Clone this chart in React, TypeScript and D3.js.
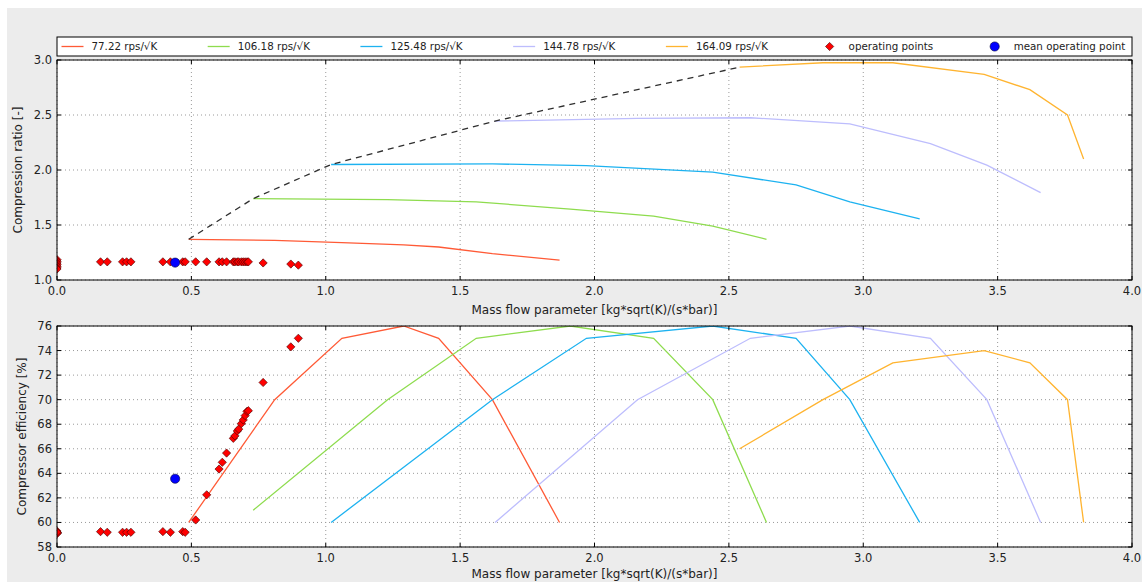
import * as d3 from 'd3';
import React, { useEffect, useRef } from 'react';

// compressor speed lines (corrected speed)
const speedLabels = ['77.22 rps/√K', '106.18 rps/√K', '125.48 rps/√K', '144.78 rps/√K', '164.09 rps/√K'];

const massFlow77 = [0.49, 0.81, 1.06, 1.29, 1.42, 1.62, 1.87];
const pr77 = [1.37, 1.36, 1.34, 1.32, 1.30, 1.24, 1.18];
const eff77 = [60, 70, 75, 76, 75, 70, 60];

const massFlow106 = [0.73, 1.23, 1.56, 1.91, 2.22, 2.44, 2.64];
const pr106 = [1.74, 1.73, 1.71, 1.645, 1.58, 1.49, 1.37];
const eff106 = [61, 70, 75, 76, 75, 70, 60];

const massFlow125 = [1.02, 1.62, 1.97, 2.44, 2.75, 2.95, 3.21];
const pr125 = [2.05, 2.055, 2.04, 1.98, 1.865, 1.71, 1.555];
const eff125 = [60, 70, 75, 76, 75, 70, 60];

const massFlow144 = [1.63, 2.16, 2.58, 2.95, 3.25, 3.46, 3.66];
const pr144 = [2.445, 2.47, 2.475, 2.42, 2.24, 2.045, 1.795];
const eff144 = [60, 70, 75, 76, 75, 70, 60];

const massFlow164 = [2.54, 2.85, 3.11, 3.45, 3.62, 3.76, 3.82];
const pr164 = [2.935, 2.975, 2.975, 2.87, 2.73, 2.50, 2.10];
const eff164 = [66, 70, 73, 74, 73, 70, 60];

// operating points
const opMassFlow = [0, 0, 0, 0, 0, 0, 0, 0.162, 0.187, 0.244, 0.259, 0.275, 0.394, 0.422, 0.468, 0.477,
  0.516, 0.557, 0.603, 0.615, 0.631, 0.656, 0.662, 0.671, 0.676, 0.686, 0.693, 0.700, 0.707, 0.712,
  0.767, 0.870, 0.898];
const opPR = [1.185, 1.17, 1.155, 1.14, 1.125, 1.11, 1.10, 1.165, 1.165, 1.165, 1.165, 1.165, 1.165, 1.165, 1.165, 1.165,
  1.165, 1.165, 1.165, 1.165, 1.165, 1.165, 1.165, 1.165, 1.165, 1.165, 1.165, 1.165, 1.165, 1.165,
  1.155, 1.145, 1.135];
const opEff = [59.2, 59.1, 59.2, 59.3, 59.2, 59.1, 59.2, 59.25, 59.2, 59.2, 59.2, 59.2, 59.25, 59.2, 59.25, 59.2,
  60.2, 62.25, 64.35, 64.9, 65.65, 66.85, 67.05, 67.45, 67.6, 68.05, 68.35, 68.7, 69.05, 69.1,
  71.4, 74.3, 75.0];

const xTicks = [0, 0.5, 1.0, 1.5, 2.0, 2.5, 3.0, 3.5, 4.0];
const prTicks = [1.0, 1.5, 2.0, 2.5, 3.0];
const effTicks = [58, 60, 62, 64, 66, 68, 70, 72, 74, 76];

const speedColors = ['#ff5a36', '#8edc4e', '#1db2f0', '#bdbdfd', '#ffb430'];
const FONT = '"DejaVu Sans", sans-serif';

const App = () => {
  const svgRef = useRef<SVGSVGElement>(null);

  useEffect(() => {
    const svg = d3.select(svgRef.current);
    svg.selectAll('*').remove();

    const W = 1146, H = 582;
    const left = 57, right = 1132;

    svg.append('rect').attr('width', W).attr('height', H).attr('fill', '#fff');
    svg.append('rect').attr('x', 7).attr('y', 8).attr('width', 1135).attr('height', H - 8).attr('fill', '#ececec');

    const x = d3.scaleLinear().domain([0, 4]).range([left, right]);

    const speeds = [
      { mf: massFlow77, pr: pr77, eff: eff77 },
      { mf: massFlow106, pr: pr106, eff: eff106 },
      { mf: massFlow125, pr: pr125, eff: eff125 },
      { mf: massFlow144, pr: pr144, eff: eff144 },
      { mf: massFlow164, pr: pr164, eff: eff164 },
    ];

    const meanOp = {
      mf: d3.mean(opMassFlow) as number,
      pr: d3.mean(opPR) as number,
      eff: d3.mean(opEff) as number,
    };

    const panel = (top: number, bottom: number, domain: number[], ticks: number[], fmt: (n: number) => string,
      ylabel: string, ylabelX: number, xlabelY: number, key: 'pr' | 'eff', id: string, surge: boolean) => {
      const y = d3.scaleLinear().domain(domain).range([bottom, top]);
      const g = svg.append('g');

      g.append('rect').attr('x', left).attr('y', top).attr('width', right - left).attr('height', bottom - top).attr('fill', '#fff');

      g.append('defs').append('clipPath').attr('id', id)
        .append('rect').attr('x', left).attr('y', top).attr('width', right - left).attr('height', bottom - top);

      // grid
      g.selectAll('.vgrid').data(xTicks).join('line')
        .attr('x1', d => x(d)).attr('x2', d => x(d)).attr('y1', top).attr('y2', bottom)
        .attr('stroke', '#9a9a9a').attr('stroke-width', 1).attr('stroke-dasharray', '1,3');
      g.selectAll('.hgrid').data(ticks).join('line')
        .attr('y1', d => y(d)).attr('y2', d => y(d)).attr('x1', left).attr('x2', right)
        .attr('stroke', '#9a9a9a').attr('stroke-width', 1).attr('stroke-dasharray', '1,3');

      const plot = g.append('g').attr('clip-path', `url(#${id})`);
      const line = d3.line<number[]>().x(d => x(d[0])).y(d => y(d[1]));

      plot.selectAll('.speed').data(speeds).join('path')
        .attr('fill', 'none')
        .attr('stroke', (d, i) => speedColors[i])
        .attr('stroke-width', 1.3)
        .attr('d', d => line(d.mf.map((m, j) => [m, d[key][j]])));

      if (surge) {
        plot.append('path')
          .attr('fill', 'none').attr('stroke', '#2e2e2e').attr('stroke-width', 1.3).attr('stroke-dasharray', '6,5')
          .attr('d', line(speeds.map(s => [s.mf[0], s[key][0]])));
      }

      const opVals = key === 'pr' ? opPR : opEff;
      plot.selectAll('.op').data(opMassFlow.map((m, i) => [m, opVals[i]])).join('path')
        .attr('d', d3.symbol(d3.symbolSquare, 34)())
        .attr('transform', d => `translate(${x(d[0])},${y(d[1])}) rotate(45)`)
        .attr('fill', '#ff0000').attr('stroke', '#4a0000').attr('stroke-width', 0.6);

      plot.append('circle')
        .attr('cx', x(meanOp.mf)).attr('cy', y(meanOp[key])).attr('r', 4.6)
        .attr('fill', '#0000ff').attr('stroke', '#00003a').attr('stroke-width', 0.6);

      // frame and inward ticks on all sides
      g.append('rect').attr('x', left).attr('y', top).attr('width', right - left).attr('height', bottom - top)
        .attr('fill', 'none').attr('stroke', '#000').attr('stroke-width', 1);
      g.selectAll('.xt').data(xTicks).join('path')
        .attr('d', d => `M${x(d)},${bottom}v-4M${x(d)},${top}v4`).attr('stroke', '#000');
      g.selectAll('.yt').data(ticks).join('path')
        .attr('d', d => `M${left},${y(d)}h4M${right},${y(d)}h-4`).attr('stroke', '#000');

      g.selectAll('.xl').data(xTicks).join('text')
        .attr('x', d => x(d)).attr('y', bottom + 15)
        .attr('text-anchor', 'middle').attr('font-family', FONT).attr('font-size', 11.5).attr('fill', '#222')
        .text(d => d3.format('.1f')(d));
      g.selectAll('.yl').data(ticks).join('text')
        .attr('x', left - 5).attr('y', d => y(d)).attr('dy', '0.35em')
        .attr('text-anchor', 'end').attr('font-family', FONT).attr('font-size', 11.5).attr('fill', '#222')
        .text(d => fmt(d));

      g.append('text')
        .attr('x', (left + right) / 2).attr('y', xlabelY)
        .attr('text-anchor', 'middle').attr('font-family', FONT).attr('font-size', 12).attr('fill', '#222')
        .text('Mass flow parameter [kg*sqrt(K)/(s*bar)]');
      g.append('text')
        .attr('transform', `translate(${ylabelX},${(top + bottom) / 2}) rotate(-90)`)
        .attr('dy', '0.35em')
        .attr('text-anchor', 'middle').attr('font-family', FONT).attr('font-size', 12).attr('fill', '#222')
        .text(ylabel);
    };

    panel(60, 280, [1, 3], prTicks, d3.format('.1f'), 'Compression ratio [-]', 18, 314, 'pr', 'clip-pr', true);
    panel(326, 547, [58, 76], effTicks, d3.format('d'), 'Compressor efficiency [%]', 22, 578, 'eff', 'clip-eff', false);

    // legend across the top axes
    const lg = svg.append('g');
    const lgTop = 37, lgBottom = 56, cy = (lgTop + lgBottom) / 2;
    lg.append('rect').attr('x', left).attr('y', lgTop).attr('width', right - left).attr('height', lgBottom - lgTop)
      .attr('fill', '#fff').attr('stroke', '#000').attr('stroke-width', 1);

    const entries = [
      ...speedLabels.map((label, i) => ({ label, kind: 'line', color: speedColors[i] })),
      { label: 'operating points', kind: 'diamond', color: '#ff0000' },
      { label: 'mean operating point', kind: 'circle', color: '#0000ff' },
    ];
    let hx = left + 4.5;
    entries.forEach(e => {
      if (e.kind === 'line') {
        lg.append('line').attr('x1', hx).attr('x2', hx + 22).attr('y1', cy).attr('y2', cy)
          .attr('stroke', e.color).attr('stroke-width', 1.3);
      } else if (e.kind === 'diamond') {
        lg.append('path').attr('d', d3.symbol(d3.symbolSquare, 34)())
          .attr('transform', `translate(${hx + 11},${cy}) rotate(45)`)
          .attr('fill', e.color).attr('stroke', '#4a0000').attr('stroke-width', 0.6);
      } else {
        lg.append('circle').attr('cx', hx + 11).attr('cy', cy).attr('r', 4.6)
          .attr('fill', e.color).attr('stroke', '#00003a').attr('stroke-width', 0.6);
      }
      const t = lg.append('text').attr('x', hx + 30).attr('y', cy).attr('dy', '0.35em')
        .attr('font-family', FONT).attr('font-size', 10.3).attr('fill', '#222').text(e.label);
      const w = (t.node() as SVGTextElement).getComputedTextLength();
      hx += w + 80.5;
    });
  }, []);

  return (
    <svg ref={svgRef} width={1146} height={582}
      style={{ position: 'absolute', left: 0, top: 0, display: 'block' }} />
  );
};

export default App;
